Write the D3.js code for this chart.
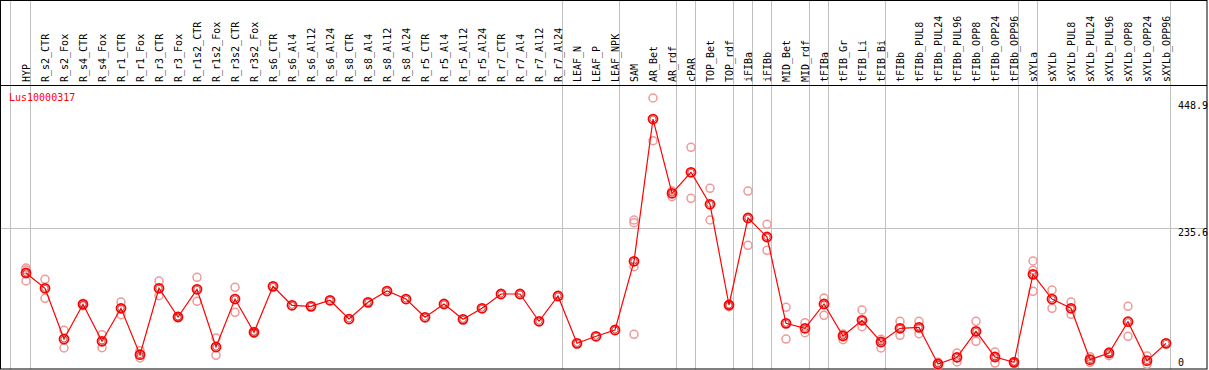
<!DOCTYPE html>
<html>
<head>
    <title>Lus10000317</title>
    <script src="https://d3js.org/d3.v7.min.js" charset="utf-8"></script>
    <style>
        body { margin: 0; background: white; }
        text { font-family: "DejaVu Sans Mono", monospace; font-size: 10px; }
    </style>
</head>
<body>
<script>
    var gene = 'Lus10000317';
    var samples = ['HYP', 'R_s2_CTR', 'R_s2_Fox', 'R_s4_CTR', 'R_s4_Fox', 'R_r1_CTR', 'R_r1_Fox',
        'R_r3_CTR', 'R_r3_Fox', 'R_r1s2_CTR', 'R_r1s2_Fox', 'R_r3s2_CTR', 'R_r3s2_Fox',
        'R_s6_CTR', 'R_s6_Al4', 'R_s6_Al12', 'R_s6_Al24', 'R_s8_CTR', 'R_s8_Al4', 'R_s8_Al12', 'R_s8_Al24',
        'R_r5_CTR', 'R_r5_Al4', 'R_r5_Al12', 'R_r5_Al24', 'R_r7_CTR', 'R_r7_Al4', 'R_r7_Al12', 'R_r7_Al24',
        'LEAF_N', 'LEAF_P', 'LEAF_NPK', 'SAM', 'AR_Bet', 'AR_rdf', 'cPAR', 'TOP_Bet', 'TOP_rdf',
        'iFIBa', 'iFIBb', 'MID_Bet', 'MID_rdf', 'tFIBa', 'tFIB_Gr', 'tFIB_Li', 'tFIB_Bi',
        'tFIBb', 'tFIBb_PUL8', 'tFIBb_PUL24', 'tFIBb_PUL96', 'tFIBb_OPP8', 'tFIBb_OPP24', 'tFIBb_OPP96',
        'sXYLa', 'sXYLb', 'sXYLb_PUL8', 'sXYLb_PUL24', 'sXYLb_PUL96', 'sXYLb_OPP8', 'sXYLb_OPP24', 'sXYLb_OPP96'];

    // mean expression per sample
    var means = [160.8, 135.2, 50.2, 108.4, 46.4, 101.7, 24.0, 135.2, 87.1, 133.5, 36.8, 117.2, 61.5,
        138.5, 106.7, 105.0, 115.1, 83.7, 111.7, 130.6, 117.2,
        86.6, 108.9, 83.2, 101.7, 125.6, 125.6, 79.9, 122.3,
        43.0, 54.8, 65.3, 180.4, 418.7, 294.3, 329.5, 275.9, 107.2,
        252.9, 221.1, 76.5, 68.2, 108.9, 55.3, 81.6, 45.2,
        68.2, 69.8, 8.4, 19.6, 63.1, 20.1, 11.2,
        158.6, 117.2, 101.7, 15.6, 26.8, 79.2, 13.9, 43.0];

    // single replicates (only those that can be seen)
    var replicates = [[169.2, 165.8, 147.4], [150.2, 118.4], [64.8, 35.2], [110.0, 106.0], [57.5, 35.7],
        [112.2, 91.0], [30.7, 18.4], [147.4, 122.8], [87.9, 86.3], [153.6, 113.4], [51.9, 22.9],
        [136.8, 95.0], [63.0, 60.0],
        [], [], [], [], [], [], [], [], [], [], [], [], [], [], [], [],
        [], [], [], [249.6, 245.1, 171.4, 58.1], [453.9, 382.4], [298.1, 288.6], [371.3, 285.9],
        [302.7, 249.6], [104.4, 107.2], [298.1, 207.2], [242.4, 198.8], [103.3, 50.2], [77.6, 60.8],
        [118.9, 89.9], [49.1, 58.6], [98.8, 70.9], [49.7, 35.2],
        [79.9, 56.4], [79.9, 59.1], [11.2, 5.6], [26.8, 11.7], [79.9, 46.4], [28.5, 10.0], [12.5, 10.0],
        [180.9, 165.3, 130.1], [132.3, 101.7], [112.2, 91.6], [20.6, 11.2], [28.5, 22.3],
        [105.0, 54.8], [21.8, 7.9], []];

    // last sample of each tissue group
    var groupEnds = ['HYP', 'R_r7_Al24', 'LEAF_NPK', 'AR_rdf', 'cPAR', 'TOP_rdf', 'iFIBa', 'iFIBb',
        'MID_rdf', 'tFIBa', 'tFIB_Bi', 'tFIBb_OPP96', 'sXYLa', 'sXYLb_OPP96'];
    var yTicks = [448.9, 235.6, 0];
    var gridValues = [235.6];

    var W = 1209, H = 370;
    var svg = d3.select('body').append('svg').attr('width', W).attr('height', H);

    var x = d3.scalePoint().domain(samples).range([26, 1166]);
    var y = d3.scaleLinear().domain([0, 448.9]).range([369, 101]);

    // grid lines
    svg.selectAll('line.grid')
        .data(gridValues)
        .enter().append('line')
        .attr('x1', 1).attr('x2', 1207)
        .attr('y1', function (d) { return Math.round(y(d)) + 0.5; })
        .attr('y2', function (d) { return Math.round(y(d)) + 0.5; })
        .attr('stroke', '#c0c0c0');

    // group separators
    var sepX = [x('HYP') - 16].concat(groupEnds.map(function (d) { return x(d) + 4; }));
    svg.selectAll('line.sep')
        .data(sepX)
        .enter().append('line')
        .attr('x1', function (d) { return Math.round(d) + 0.5; })
        .attr('x2', function (d) { return Math.round(d) + 0.5; })
        .attr('y1', 0).attr('y2', 369)
        .attr('stroke', '#c0c0c0');

    // frame
    svg.append('rect').attr('x', 0.5).attr('y', 0.5).attr('width', 1206.5).attr('height', 368.5)
        .attr('fill', 'none').attr('stroke', 'black');
    svg.append('line').attr('x1', 0).attr('x2', 1207).attr('y1', 85.5).attr('y2', 85.5).attr('stroke', 'black');

    // sample labels
    svg.selectAll('text.sample')
        .data(samples)
        .enter().append('text')
        .attr('transform', function (d) { return 'translate(' + (x(d) + 4) + ',82) rotate(-90)'; })
        .attr('fill', 'black')
        .text(function (d) { return d; });

    svg.append('text').attr('x', 9).attr('y', 101).attr('fill', 'red').text(gene);

    // right-hand value labels
    svg.selectAll('text.tick')
        .data(yTicks)
        .enter().append('text')
        .attr('x', 1178)
        .attr('y', function (d) { return Math.min(y(d) + 8, 366); })
        .attr('fill', 'black')
        .text(function (d) { return d; });

    // replicates
    var repPts = [];
    replicates.forEach(function (r, i) {
        r.forEach(function (v) { repPts.push({ s: samples[i], v: v }); });
    });
    svg.selectAll('circle.rep')
        .data(repPts)
        .enter().append('circle')
        .attr('cx', function (d) { return x(d.s); })
        .attr('cy', function (d) { return y(d.v); })
        .attr('r', 4)
        .attr('fill', 'none')
        .attr('stroke', '#f09898')
        .attr('stroke-width', 1.5);

    // mean line
    var line = d3.line()
        .x(function (d, i) { return x(samples[i]); })
        .y(function (d) { return y(d); });
    svg.append('path').datum(means)
        .attr('d', line)
        .attr('fill', 'none')
        .attr('stroke', 'red')
        .attr('stroke-width', 1.2);

    var meanG = svg.selectAll('g.mean')
        .data(means)
        .enter().append('g')
        .attr('transform', function (d, i) { return 'translate(' + x(samples[i]) + ',' + y(d) + ')'; });
    meanG.append('circle').attr('r', 4.5).attr('fill', 'none').attr('stroke', 'red').attr('stroke-width', 1.8);
    meanG.append('circle').attr('r', 3).attr('fill', 'none').attr('stroke', '#900').attr('stroke-width', 0.6);
</script>
</body>
</html>
